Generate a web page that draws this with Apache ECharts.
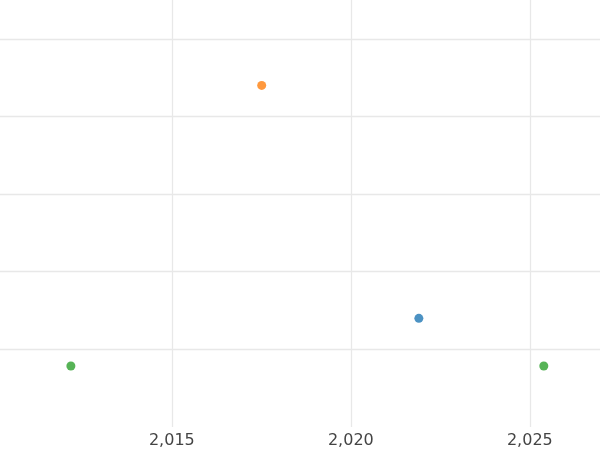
<!DOCTYPE html>
<html><head><meta charset="utf-8">
<script src="https://cdn.jsdelivr.net/npm/echarts@6/dist/echarts.min.js"></script>
<style>html,body{margin:0;padding:0;background:#fff}#c{width:600px;height:450px}</style>
</head><body><div id="c"></div>
<script>
const xTicks = [2015, 2020, 2025];
const yLines = [1, 2, 3, 4, 5];
const blueSeries = [[2021.9, 1.40]];
const orangeSeries = [[2017.51, 4.40]];
const greenSeries = [[2012.18, 0.785], [2025.39, 0.785]];

const chart = echarts.init(document.getElementById('c'));
const lineStyle = {color: '#e8e8e8', width: 1.3, type: 'solid'};
const mk = (pts, c) => ({
  type: 'scatter', data: pts, symbolSize: 9, itemStyle: {color: c}, z: 5
});
chart.setOption({
  animation: false,
  grid: {left: 0, right: 0, top: 0, bottom: 23},
  xAxis: {type: 'value', min: 2010.2, max: 2026.96,
    axisLine: {show: false}, axisTick: {show: false}, splitLine: {show: false},
    axisLabel: {customValues: xTicks, color: '#444', fontSize: 16, fontFamily: 'DejaVu Sans', margin: 6}},
  yAxis: {type: 'value', min: 0, max: 5.5,
    axisLine: {show: false}, axisTick: {show: false}, splitLine: {show: false}, axisLabel: {show: false}},
  series: [
    {type: 'scatter', data: [], silent: true,
     markLine: {silent: true, symbol: 'none', label: {show: false}, lineStyle: lineStyle,
       data: xTicks.map(v => ({xAxis: v})).concat(yLines.map(v => ({yAxis: v})))}},
    mk(blueSeries, '#1f77b4'),
    mk(orangeSeries, '#ff7f0e'),
    mk(greenSeries, '#2ca02c')
  ]
});
</script></body></html>
